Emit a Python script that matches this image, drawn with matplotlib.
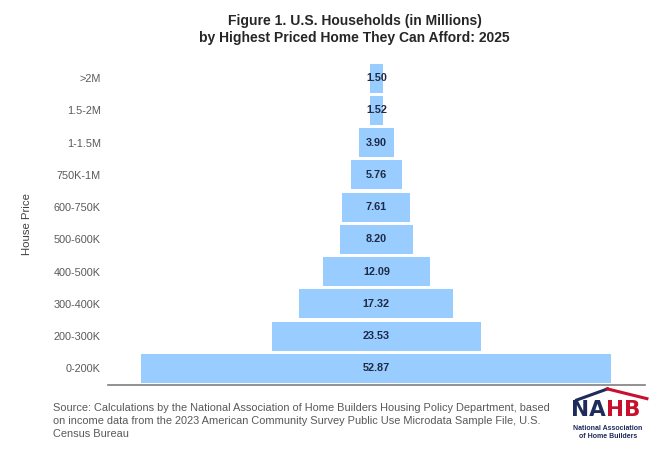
import matplotlib.pyplot as plt
from matplotlib.lines import Line2D

plt.rcParams['font.family'] = ['Liberation Sans', 'DejaVu Sans']

# data, bottom to top
price_ranges = ['0-200K', '200-300K', '300-400K', '400-500K', '500-600K',
                '600-750K', '750K-1M', '1-1.5M', '1.5-2M', '>2M']
households = [52.87, 23.53, 17.32, 12.09, 8.20, 7.61, 5.76, 3.90, 1.52, 1.50]

source_text = ('Source: Calculations by the National Association of Home Builders Housing Policy Department, based\n'
               'on income data from the 2023 American Community Survey Public Use Microdata Sample File, U.S.\n'
               'Census Bureau')

fig = plt.figure(figsize=(6.69, 4.63), dpi=100)
ax = fig.add_axes([0.161, 0.168, 0.803, 0.698])

ypos = list(range(len(price_ranges)))
lefts = [-v / 2 for v in households]
ax.barh(ypos, households, left=lefts, height=0.9, color='#99CCFF')

for y, v in zip(ypos, households):
    ax.text(0, y, f'{v:.2f}', ha='center', va='center', fontsize=7.8,
            fontweight='bold', color='#1F2A44')

ax.set_xlim(-30.2, 30.2)
ax.set_ylim(-0.52, 9.5)
ax.set_yticks(ypos)
ax.set_yticklabels(price_ranges, fontsize=7.8, color='#595959')
ax.tick_params(axis='y', length=0, pad=5)
ax.set_xticks([])
for s in ['top', 'right', 'left']:
    ax.spines[s].set_visible(False)
ax.spines['bottom'].set_color('#7F7F7F')
ax.spines['bottom'].set_linewidth(1.2)
ax.set_ylabel('House Price', fontsize=8.2, color='#404040', labelpad=16)

fig.text(0.53, 0.937, 'Figure 1. U.S. Households (in Millions)\nby Highest Priced Home They Can Afford: 2025',
         ha='center', va='center', fontsize=10, fontweight='bold', color='#262626',
         linespacing=1.3)

fig.text(0.079, 0.091, source_text, ha='left', va='center', fontsize=7.9,
         color='#595959', linespacing=1.4)

# NAHB logo
navy = '#1E2B5C'
red = '#C8102E'
fig.add_artist(Line2D([0.862, 0.908], [0.136, 0.160], color=navy, lw=2.2, transform=fig.transFigure))
fig.add_artist(Line2D([0.908, 0.967], [0.160, 0.139], color=red, lw=2.2, transform=fig.transFigure))
fig.text(0.906, 0.1145, 'NA', ha='right', va='center', fontsize=15.5, fontweight='bold',
         color=navy, family='DejaVu Sans')
fig.text(0.906, 0.1145, 'HB', ha='left', va='center', fontsize=15.5, fontweight='bold',
         color=red, family='DejaVu Sans')
fig.text(0.909, 0.066, 'National Association\nof Home Builders', ha='center', va='center',
         fontsize=5, fontweight='bold', color=navy, linespacing=1.15)

fig.savefig('out.png', dpi=100)
